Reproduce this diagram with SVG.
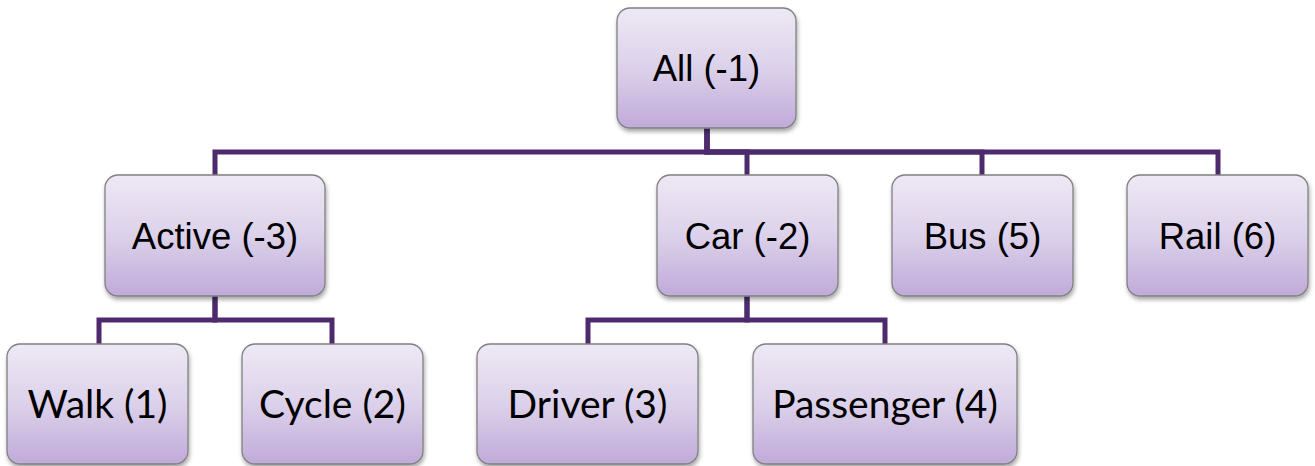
<svg xmlns="http://www.w3.org/2000/svg" width="1315" height="466" viewBox="0 0 1315 466">
  <defs>
    <linearGradient id="boxFill" x1="0" y1="0" x2="0" y2="1">
      <stop offset="0" stop-color="#EEE9F5"/>
      <stop offset="0.5" stop-color="#DCD1EA"/>
      <stop offset="1" stop-color="#C0AAD9"/>
    </linearGradient>
    <filter id="shadow" x="-10%" y="-10%" width="125%" height="130%">
      <feDropShadow dx="1" dy="3" stdDeviation="2.2" flood-color="#000" flood-opacity="0.35"/>
    </filter>
  </defs>
  <style>
    .box { fill: url(#boxFill); stroke: #808080; stroke-width: 1.3; filter: url(#shadow); }
    .lbl { font-family: "Liberation Sans", Arial, sans-serif; font-size: 36.5px; fill: #000; text-anchor: middle; }
    .lbl2 { font-family: Lato, "Open Sans", sans-serif; font-size: 39px; fill: #000; text-anchor: middle; }
    .edge { fill: none; stroke: #4D2A6C; stroke-width: 5; stroke-linejoin: miter; }
  </style>

  <rect width="1315" height="466" fill="#FFFFFF"/>

  <!-- connectors -->
  <g id="connectors">
    <path class="edge" d="M707,127 V152 H215 V175"/>
    <path class="edge" d="M707,127 V152 H747 V175"/>
    <path class="edge" d="M707,127 V152 H982 V175"/>
    <path class="edge" d="M707,127 V152 H1218 V175"/>
    <path class="edge" d="M215,296 V320 H99 V344"/>
    <path class="edge" d="M215,296 V320 H332 V344"/>
    <path class="edge" d="M747,296 V320 H588 V344"/>
    <path class="edge" d="M747,296 V320 H885 V344"/>
  </g>

  <!-- level 0 -->
  <g id="node-all">
    <rect class="box" x="617" y="8" width="179" height="120" rx="13"/>
    <text class="lbl" x="706.5" y="81">All (-1)</text>
  </g>

  <!-- level 1 -->
  <g id="node-active">
    <rect class="box" x="105" y="175" width="220" height="121" rx="13"/>
    <text class="lbl" x="215" y="249">Active (-3)</text>
  </g>
  <g id="node-car">
    <rect class="box" x="657" y="175" width="181" height="121" rx="13"/>
    <text class="lbl" x="747.5" y="249">Car (-2)</text>
  </g>
  <g id="node-bus">
    <rect class="box" x="892" y="175" width="181" height="121" rx="13"/>
    <text class="lbl" x="982.5" y="249">Bus (5)</text>
  </g>
  <g id="node-rail">
    <rect class="box" x="1127" y="175" width="181" height="121" rx="13"/>
    <text class="lbl" x="1217.5" y="249">Rail (6)</text>
  </g>

  <!-- level 2 -->
  <g id="node-walk">
    <rect class="box" x="7" y="344" width="181" height="120" rx="13"/>
    <text class="lbl2" x="97.5" y="418">Walk (1)</text>
  </g>
  <g id="node-cycle">
    <rect class="box" x="242" y="344" width="181" height="120" rx="13"/>
    <text class="lbl2" x="332.5" y="418">Cycle (2)</text>
  </g>
  <g id="node-driver">
    <rect class="box" x="477" y="344" width="221" height="120" rx="13"/>
    <text class="lbl2" x="587.5" y="418">Driver (3)</text>
  </g>
  <g id="node-passenger">
    <rect class="box" x="753" y="344" width="264" height="120" rx="13"/>
    <text class="lbl2" x="885" y="418">Passenger (4)</text>
  </g>
</svg>
